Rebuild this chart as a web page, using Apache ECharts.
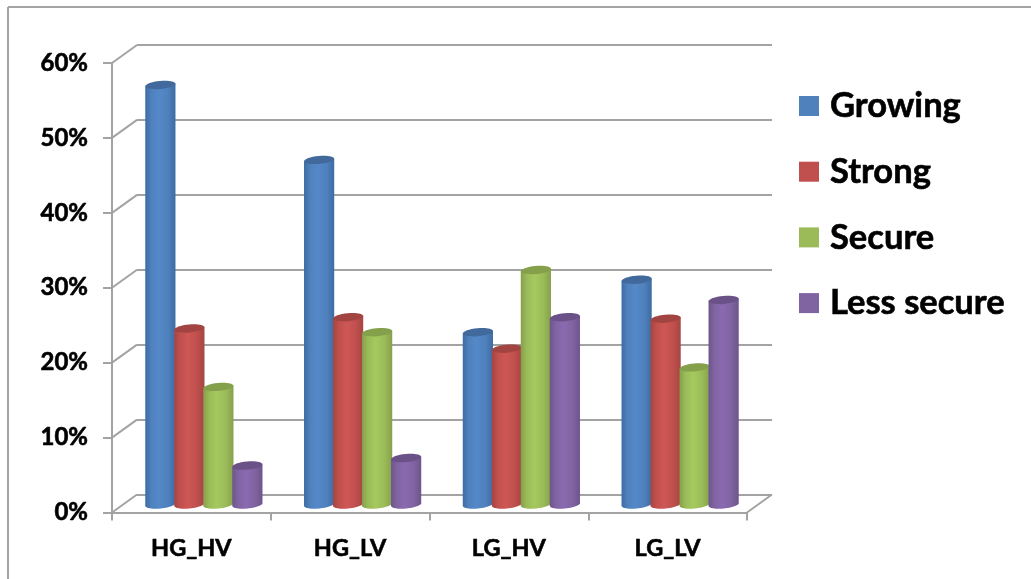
<!DOCTYPE html>
<html>
<head>
<meta charset="utf-8">
<style>html,body{margin:0;padding:0;background:#fff}#c{width:1031px;height:579px}</style>
<script src="https://cdn.jsdelivr.net/npm/echarts@6/dist/echarts.min.js"></script>
</head>
<body>
<div id="c"></div>
<script>
const categories = ['HG_HV', 'HG_LV', 'LG_HV', 'LG_LV'];
const growing = [56, 46, 23, 30];
const strong = [23.5, 25, 20.8, 24.8];
const secure = [15.7, 23, 31.3, 18.3];
const lessSecure = [5.2, 6.2, 25, 27.3];
const yTicks = [0, 10, 20, 30, 40, 50, 60];

const palette = {
  Growing:       {base: '#4f81bd', mid: '#5488c8', edge: '#3d6ca3', top: '#41699b'},
  Strong:        {base: '#c0504d', mid: '#cf5755', edge: '#a54543', top: '#a24441'},
  Secure:        {base: '#9bbb59', mid: '#a5c95e', edge: '#85a04b', top: '#84a04b'},
  'Less secure': {base: '#8064a2', mid: '#8a6ab0', edge: '#6d558b', top: '#6a5288'}
};
const AXIS = '#a3a3a3';
const FONT = 'Lato';
const DX = 25, DY = -18;
const PLOT_W = 635, PLOT_H = 449.5, LEFT = 112, TOP = 63;
const BAR_FRAC = 0.1827, RX_PAD = 0.6, RY = 4, TILT = 0.09;

function cylinderSeries(name, values, index) {
  const c = palette[name];
  return {
    name, type: 'custom', xAxisIndex: 2, yAxisIndex: 2, clip: false, z: 5 + index,
    itemStyle: {color: c.base},
    encode: {x: 0, y: 1},
    data: values.map((v, i) => [categories[i], v]),
    renderItem(params, api) {
      const top = api.coord([api.value(0), api.value(1)]);
      const bot = api.coord([api.value(0), 0]);
      const band = api.size([1, 0])[0];
      const w = band * BAR_FRAC;
      const cx = top[0] + (index - 1.5) * w;
      const rx = w / 2 + RX_PAD;
      const pts = [];
      const tiltY = x => -(x - cx) * TILT;
      pts.push([cx - rx, top[1] + tiltY(cx - rx)]);
      pts.push([cx + rx, top[1] + tiltY(cx + rx)]);
      for (let k = 0; k <= 24; k++) {
        const a = Math.PI * k / 24;
        const x = cx + rx * Math.cos(a);
        pts.push([x, bot[1] + RY * Math.sin(a) + tiltY(x)]);
      }
      return {
        type: 'group',
        children: [
          {
            type: 'polygon', shape: {points: pts},
            style: {
              fill: new echarts.graphic.LinearGradient(0, 0, 1, 0, [
                {offset: 0, color: c.edge},
                {offset: 0.2, color: c.base},
                {offset: 0.45, color: c.mid},
                {offset: 0.75, color: c.base},
                {offset: 1, color: c.edge}
              ])
            }
          },
          {
            type: 'ellipse',
            shape: {cx: cx, cy: top[1], rx: rx, ry: RY},
            rotation: Math.atan(TILT),
            originX: cx, originY: top[1],
            style: {fill: c.top}
          }
        ]
      };
    }
  };
}

const depthSeries = {
  type: 'custom', xAxisIndex: 0, yAxisIndex: 0, clip: false, silent: true, z: 2,
  legendHoverLink: false,
  data: yTicks.map(v => [categories[0], v]),
  encode: {y: 1},
  renderItem(params, api) {
    const p = api.coord([categories[0], api.value(1)]);
    const x0 = params.coordSys.x;
    const lines = [{
      type: 'line',
      shape: {x1: x0, y1: p[1], x2: x0 + DX, y2: p[1] + DY},
      style: {stroke: AXIS, lineWidth: 2}
    }];
    if (api.value(1) === 0) {
      const xr = x0 + params.coordSys.width;
      lines.push({
        type: 'line',
        shape: {x1: xr, y1: p[1], x2: xr + DX, y2: p[1] + DY},
        style: {stroke: AXIS, lineWidth: 2}
      });
    }
    return {type: 'group', children: lines};
  }
};

const yBase = {type: 'value', min: 0, max: 60, interval: 10};
const xBase = {type: 'category', data: categories};
const hidden = {axisLine: {show: false}, axisTick: {show: false}, axisLabel: {show: false}};
const heavy = {color: '#000', fontFamily: FONT, fontWeight: 'bold', textBorderColor: '#000', textBorderWidth: 0.6};

const option = {
  animation: false,
  backgroundColor: '#ffffff',
  grid: [
    {left: LEFT, top: TOP, width: PLOT_W, height: PLOT_H},
    {left: LEFT + DX, top: TOP + DY, width: PLOT_W, height: PLOT_H},
    {left: LEFT + DX / 2, top: TOP + DY / 2 + 1, width: PLOT_W, height: PLOT_H}
  ],
  xAxis: [
    Object.assign({}, xBase, {
      gridIndex: 0,
      axisLine: {show: true, lineStyle: {color: AXIS, width: 2}},
      axisTick: {show: true, length: 8, lineStyle: {color: AXIS, width: 2}},
      axisLabel: Object.assign({show: true, margin: 24, fontSize: 23.5}, heavy),
      splitLine: {show: false}
    }),
    Object.assign({}, xBase, hidden, {gridIndex: 1, splitLine: {show: false}}),
    Object.assign({}, xBase, hidden, {gridIndex: 2, splitLine: {show: false}})
  ],
  yAxis: [
    Object.assign({}, yBase, {
      gridIndex: 0,
      axisLine: {show: true, lineStyle: {color: AXIS, width: 2}},
      axisTick: {show: true, length: 9, lineStyle: {color: AXIS, width: 2}},
      axisLabel: Object.assign({show: true, margin: 24, fontSize: 24, formatter: '{value}%'}, heavy),
      splitLine: {show: false}
    }),
    Object.assign({}, yBase, hidden, {
      gridIndex: 1,
      splitLine: {show: true, lineStyle: {color: AXIS, width: 2}}
    }),
    Object.assign({}, yBase, hidden, {gridIndex: 2, splitLine: {show: false}})
  ],
  legend: {
    orient: 'vertical', left: 794, top: 81, icon: 'rect',
    itemWidth: 20, itemHeight: 20, itemGap: 25.7,
    data: ['Growing', 'Strong', 'Secure', 'Less secure'],
    textStyle: Object.assign({fontSize: 34.5, lineHeight: 40, padding: [0, 0, 0, 6]}, heavy)
  },
  graphic: [
    {type: 'line', shape: {x1: 8, y1: 7, x2: 1031, y2: 7}, style: {stroke: AXIS, lineWidth: 2}},
    {type: 'line', shape: {x1: 8, y1: 7, x2: 8, y2: 579}, style: {stroke: AXIS, lineWidth: 2}}
  ],
  series: [
    depthSeries,
    cylinderSeries('Growing', growing, 0),
    cylinderSeries('Strong', strong, 1),
    cylinderSeries('Secure', secure, 2),
    cylinderSeries('Less secure', lessSecure, 3)
  ]
};
const chart = echarts.init(document.getElementById('c'), null, {renderer: 'canvas'});
chart.setOption(option);
</script>
</body>
</html>
